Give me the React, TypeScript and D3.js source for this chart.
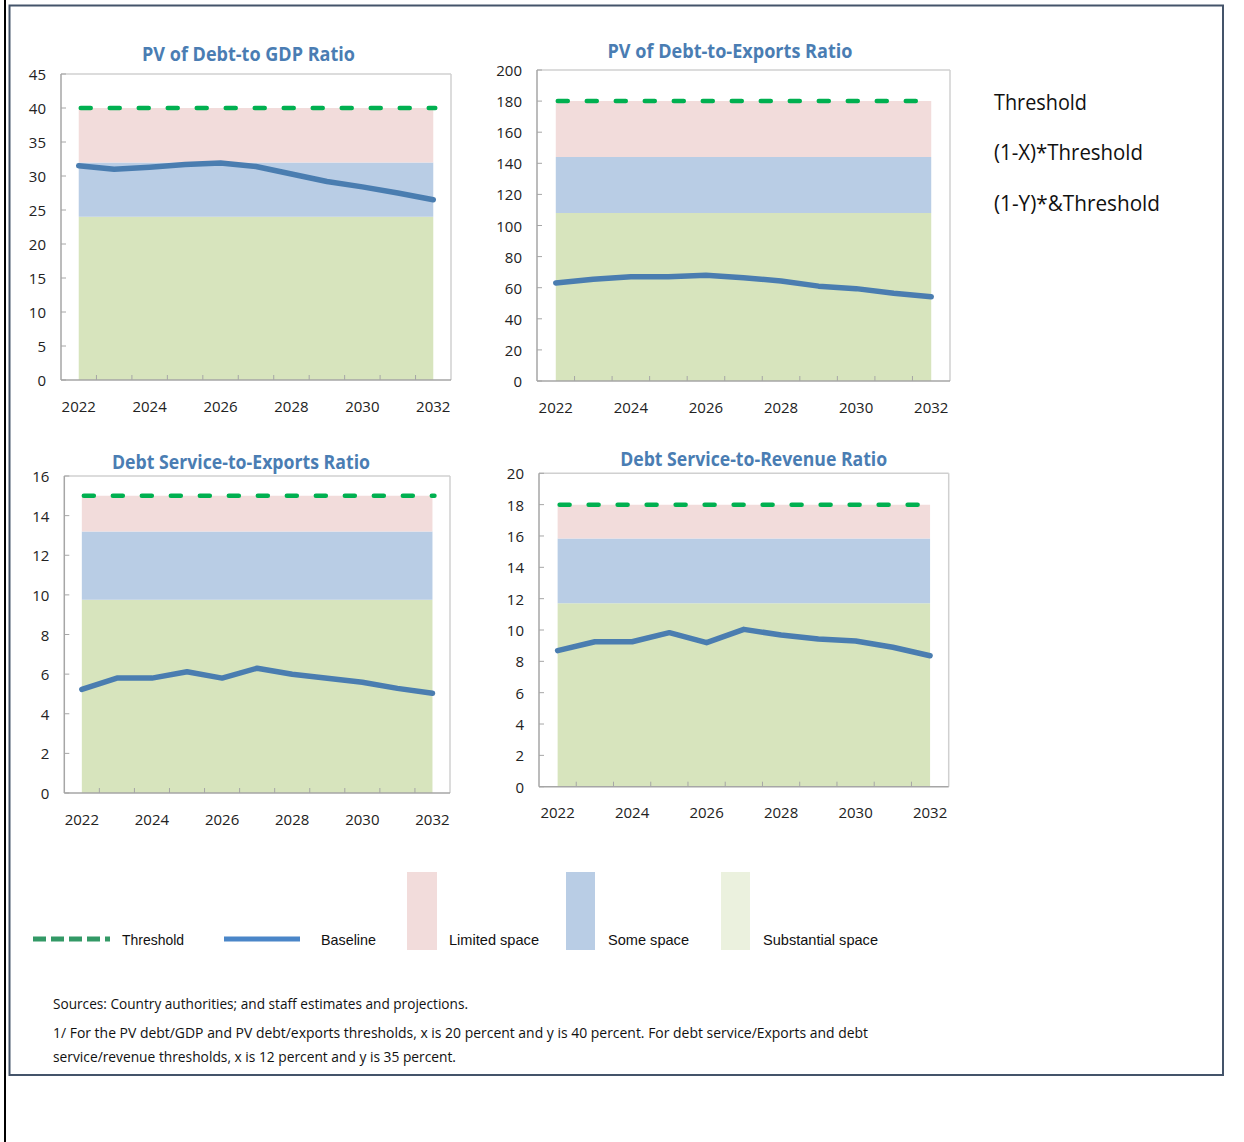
import React, { useEffect } from 'react';
import * as d3 from 'd3';

// ---------- DATA ----------
const years = [2022, 2023, 2024, 2025, 2026, 2027, 2028, 2029, 2030, 2031, 2032];
const xTickYears = [2022, 2024, 2026, 2028, 2030, 2032];

const titles = [
  'PV of Debt-to GDP Ratio',
  'PV of Debt-to-Exports Ratio',
  'Debt Service-to-Exports Ratio',
  'Debt Service-to-Revenue Ratio',
];

const baselinePvDebtGdp = [31.5, 31.0, 31.3, 31.7, 31.9, 31.4, 30.3, 29.2, 28.4, 27.5, 26.5];
const baselinePvDebtExports = [63.0, 65.4, 67.0, 67.0, 68.0, 66.4, 64.3, 61.0, 59.4, 56.4, 54.2];
const baselineDsExports = [5.23, 5.8, 5.8, 6.12, 5.8, 6.3, 5.99, 5.79, 5.59, 5.28, 5.03];
const baselineDsRevenue = [8.68, 9.25, 9.25, 9.83, 9.19, 10.04, 9.68, 9.43, 9.3, 8.9, 8.36];

const thresholdValues = [40, 180, 15, 18];
const someSpaceTop = [32, 144, 13.2, 15.84];
const substantialSpaceTop = [24, 108, 9.75, 11.7];

const yAxisMax = [45, 200, 16, 20];
const yAxisStep = [5, 20, 2, 2];

const legendLabels = ['Threshold', 'Baseline', 'Limited space', 'Some space', 'Substantial space'];
const sideLabels = ['Threshold', '(1-X)*Threshold', '(1-Y)*&Threshold'];
const noteLines = [
  'Sources: Country authorities; and staff estimates and projections.',
  '1/ For the PV debt/GDP and PV debt/exports thresholds, x is 20 percent and y is 40 percent. For debt service/Exports and debt',
  'service/revenue thresholds, x is 12 percent and y is 35 percent.',
];

const baselines = [baselinePvDebtGdp, baselinePvDebtExports, baselineDsExports, baselineDsRevenue];

// ---------- STYLE / LAYOUT ----------
const C = {
  pink: '#f2dcdb',
  blue: '#b9cde5',
  green: '#d7e4bd',
  greenLegend: '#ebf1de',
  line: '#4a7db0',
  thr: '#00b050',
  title: '#4a7db3',
  frame: '#d0d0d0',
  axis: '#a6a6a6',
  text: '#222',
};

const panels = [
  { l: 61, t: 74, r: 451, b: 380, tx: 248.5, ty: 53, tw: 213 },
  { l: 537, t: 70, r: 950, b: 381, tx: 730, ty: 50, tw: 245 },
  { l: 64.3, t: 476, r: 450, b: 793, tx: 241, ty: 461, tw: 258 },
  { l: 539, t: 473.3, r: 948.7, b: 786.7, tx: 753.7, ty: 458, tw: 267 },
];

const FONT = '"Open Sans", "Noto Sans", sans-serif';

function Panel({ i }: { i: number }) {
  const p = panels[i];
  const x = d3.scaleBand<number>().domain(years).range([p.l, p.r]).padding(0);
  const y = d3.scaleLinear().domain([0, yAxisMax[i]]).range([p.b, p.t]);
  const cx = (yr: number) => (x(yr) as number) + x.bandwidth() / 2;
  const yTicks = d3.range(0, yAxisMax[i] + yAxisStep[i] / 2, yAxisStep[i]);

  const band = (lo: number, hi: number) =>
    d3
      .area<number>()
      .x((yr) => cx(yr))
      .y0(() => y(lo))
      .y1(() => y(hi))(years) as string;

  const line = d3
    .line<number>()
    .x((_, k) => cx(years[k]))
    .y((v) => y(v))(baselines[i]) as string;

  const thrLine = d3
    .line<number>()
    .x((yr) => cx(yr))
    .y(() => y(thresholdValues[i]))(years) as string;

  const boundaries = years.map((yr) => x(yr) as number).slice(1);

  return (
    <g>
      <text
        x={p.tx}
        y={p.ty}
        textAnchor="middle"
        dominantBaseline="central"
        fontFamily={FONT}
        fontWeight={700}
        fontSize={20}
        fill={C.title}
        textLength={p.tw}
        lengthAdjust="spacingAndGlyphs"
      >
        {titles[i]}
      </text>
      <path d={band(0, substantialSpaceTop[i])} fill={C.green} />
      <path d={band(substantialSpaceTop[i], someSpaceTop[i])} fill={C.blue} />
      <path d={band(someSpaceTop[i], thresholdValues[i])} fill={C.pink} />
      {/* frame */}
      <line x1={p.l} x2={p.r} y1={p.t} y2={p.t} stroke={C.frame} strokeWidth={1.5} />
      <line x1={p.r} x2={p.r} y1={p.t} y2={p.b} stroke={C.frame} strokeWidth={1.5} />
      <line x1={p.l} x2={p.l} y1={p.t} y2={p.b} stroke={C.axis} strokeWidth={1.5} />
      <line x1={p.l} x2={p.r} y1={p.b} y2={p.b} stroke={C.axis} strokeWidth={1.5} />
      {yTicks.map((v) => (
        <g key={v}>
          <line x1={p.l} x2={p.l + 5} y1={y(v)} y2={y(v)} stroke={C.axis} strokeWidth={1} />
          <text
            x={p.l - 15}
            y={y(v)}
            textAnchor="end"
            dominantBaseline="central"
            fontFamily={FONT}
            fontSize={15}
            fill={C.text}
          >
            {v}
          </text>
        </g>
      ))}
      {boundaries.map((bx, k) => (
        <line key={k} x1={bx} x2={bx} y1={p.b} y2={p.b - 5} stroke={C.axis} strokeWidth={1} />
      ))}
      {xTickYears.map((yr) => (
        <text
          key={yr}
          x={cx(yr)}
          y={p.b + 25.5}
          textAnchor="middle"
          dominantBaseline="central"
          fontFamily={FONT}
          fontSize={15}
          fill={C.text}
        >
          {yr}
        </text>
      ))}
      <path
        d={thrLine}
        fill="none"
        stroke={C.thr}
        strokeWidth={4.5}
        strokeDasharray="10,19"
        strokeLinecap="round"
        transform="translate(2,0)"
      />
      <path d={line} fill="none" stroke={C.line} strokeWidth={5.5} strokeLinejoin="round" strokeLinecap="round" />
    </g>
  );
}

export default function App() {
  useEffect(() => {
    document.body.style.margin = '0';
  }, []);
  const legendY = 939;
  return (
    <svg width={1244} height={1142} style={{ display: 'block', background: '#fff' }}>
      <rect x={0} y={0} width={1244} height={1142} fill="#fff" />
      <line x1={5} x2={5} y1={0} y2={1142} stroke="#000" strokeWidth={2} />
      <rect x={9.5} y={5.5} width={1213.5} height={1069.5} fill="none" stroke="#44546a" strokeWidth={2} />

      {[0, 1, 2, 3].map((i) => (
        <Panel key={i} i={i} />
      ))}

      {sideLabels.map((s, k) => (
        <text
          key={s}
          x={994}
          y={101 + k * 50.5}
          dominantBaseline="central"
          fontFamily={FONT}
          fontSize={22.5}
          fill="#111"
          textLength={[93, 149, 166][k]}
          lengthAdjust="spacingAndGlyphs"
        >
          {s}
        </text>
      ))}

      {/* legend */}
      <line x1={33} x2={110} y1={legendY} y2={legendY} stroke="#339966" strokeWidth={5} strokeDasharray="13,5" />
      <line x1={224} x2={300} y1={legendY} y2={legendY} stroke="#4a86c8" strokeWidth={5} />
      <rect x={407} y={872} width={30} height={78} fill={C.pink} />
      <rect x={566} y={872} width={29} height={78} fill={C.blue} />
      <rect x={721} y={872} width={29} height={78} fill={C.greenLegend} />
      {legendLabels.map((s, k) => (
        <text
          key={s}
          x={[122, 321, 449, 608, 763][k]}
          y={legendY}
          dominantBaseline="central"
          fontFamily='"Liberation Sans", Arial, sans-serif'
          fontSize={15}
          fill="#111"
          textLength={[62, 55, 90, 81, 115][k]}
          lengthAdjust="spacingAndGlyphs"
        >
          {s}
        </text>
      ))}

      {noteLines.map((s, k) => (
        <text
          key={k}
          x={53}
          y={[1003, 1032, 1056][k]}
          dominantBaseline="central"
          fontFamily={FONT}
          fontSize={14.5}
          fill="#111"
          textLength={[415, 815, 403][k]}
          lengthAdjust="spacingAndGlyphs"
        >
          {s}
        </text>
      ))}
    </svg>
  );
}
